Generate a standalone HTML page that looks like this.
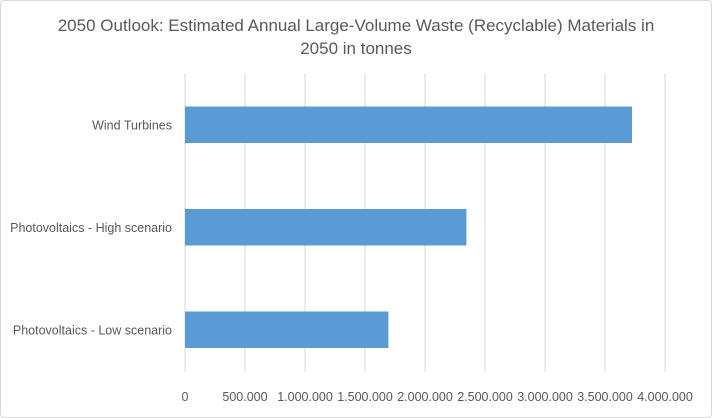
<!DOCTYPE html>
<html><head><meta charset="utf-8"><style>
body{margin:0;background:#fff;font-family:"Liberation Sans",sans-serif;}
#wrap{position:relative;width:712px;height:418px;}
#frame{position:absolute;left:0;top:0;width:710px;height:416px;border:1px solid #d9d9d9;border-radius:4px;}
</style></head><body>
<div id="wrap">
<div id="frame"></div>
<svg id="chart" width="712" height="418" style="position:absolute;left:0;top:0">
<text x="356" y="31" text-anchor="middle" font-size="17" fill="#595959">2050 Outlook: Estimated Annual Large-Volume Waste (Recyclable) Materials in</text>
<text x="356" y="54" text-anchor="middle" font-size="17" fill="#595959">2050 in tonnes</text>
<g id="grid"></g><g id="bars"></g><g id="labels"></g>
</svg>
</div>
<script>
const categories=["Wind Turbines","Photovoltaics - High scenario","Photovoltaics - Low scenario"];
const values=[3725000,2345000,1695000];
const ticks=[0,500000,1000000,1500000,2000000,2500000,3000000,3500000,4000000];
const tickLabels=["0","500.000","1.000.000","1.500.000","2.000.000","2.500.000","3.000.000","3.500.000","4.000.000"];
const NS="http://www.w3.org/2000/svg";
const x0=185,x1=665,yTop=73,bandH=102.5,barH=36.5,gridTop=73,gridBot=372;
const xs=v=>x0+(v/4000000)*(x1-x0);
function mk(t,a){const e=document.createElementNS(NS,t);for(const k in a)e.setAttribute(k,a[k]);return e;}
const g=document.getElementById('grid'),b=document.getElementById('bars'),l=document.getElementById('labels');
ticks.forEach((t,i)=>{
 const ln=mk('line',{x1:xs(t),x2:xs(t),y1:gridTop,y2:gridBot,stroke:'#d9d9d9','stroke-width':1});
 
 
 g.appendChild(ln);
 const tx=mk('text',{x:xs(t),y:401,'text-anchor':'middle','font-size':12.5,fill:'#595959'});
 tx.textContent=tickLabels[i];
 
 
 l.appendChild(tx);
});
categories.forEach((c,i)=>{
 const cy=yTop+bandH*(i+0.5)+0.5;
 const r=mk('rect',{x:x0,y:cy-barH/2,width:xs(values[i])-x0,height:barH,fill:'#5b9bd5'});
 
 
 b.appendChild(r);
 const tx=mk('text',{x:172,y:cy+4.5,'text-anchor':'end','font-size':12.5,fill:'#595959'});
 tx.textContent=c;
 
 
 l.appendChild(tx);
});
</script>
</body></html>
